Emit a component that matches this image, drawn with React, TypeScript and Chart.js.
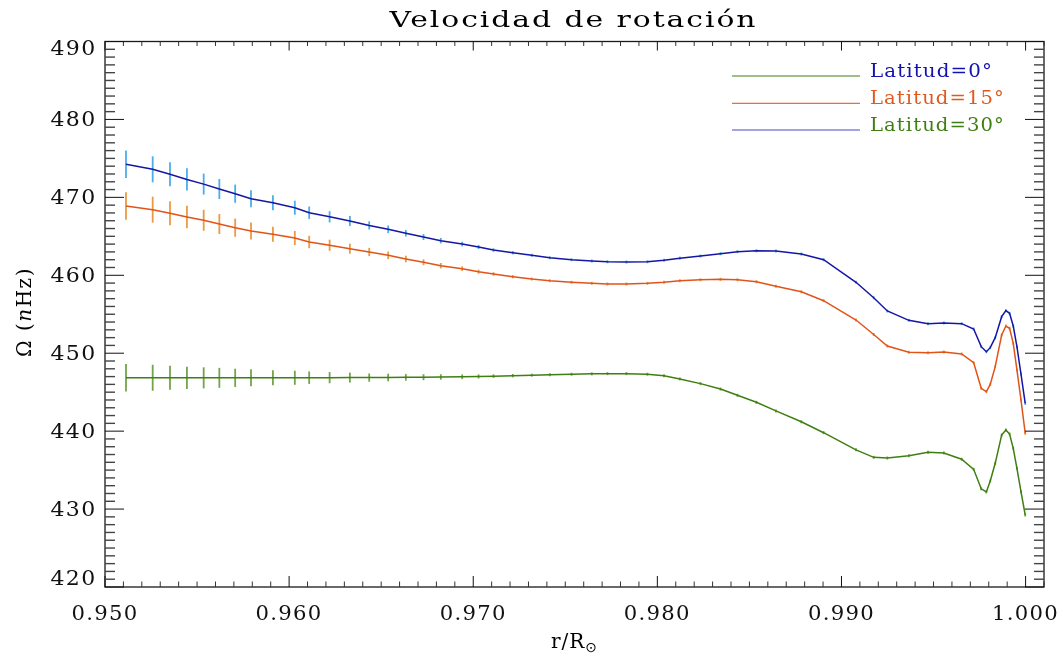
import React, { useEffect, useRef } from 'react';
import { Chart, registerables } from 'chart.js';

Chart.register(...registerables);

// r / R_sun
const radius = [
  0.95114, 0.95259, 0.95353, 0.95445, 0.95536, 0.95621, 0.95707, 0.95793, 0.95912, 0.96031,
  0.96109, 0.9622, 0.9633, 0.96435, 0.96538, 0.96634, 0.9673, 0.96824, 0.9694, 0.97029,
  0.9711, 0.97215, 0.97318, 0.97416, 0.97534, 0.97644, 0.97729, 0.97832, 0.97946, 0.98036,
  0.98122, 0.98234, 0.98343, 0.98435, 0.98538, 0.98644, 0.98782, 0.98903, 0.99079, 0.99175,
  0.99249, 0.99366, 0.9947, 0.99556, 0.99653, 0.99718, 0.99759, 0.99787, 0.99808, 0.99835,
  0.9987, 0.99893, 0.99913, 0.99933, 0.99953, 0.99975, 0.99998,
];

// Omega (nHz), latitude 0
const omegaLat0 = [
  474.24, 473.6, 472.96, 472.3, 471.7, 471.07, 470.47, 469.83, 469.3, 468.67,
  468.03, 467.5, 466.97, 466.4, 465.9, 465.39, 464.91, 464.44, 464.01, 463.63,
  463.24, 462.9, 462.56, 462.25, 462.0, 461.83, 461.74, 461.7, 461.74, 461.92,
  462.2, 462.47, 462.77, 463.03, 463.15, 463.12, 462.73, 462.0, 459.1, 457.12,
  455.42, 454.22, 453.79, 453.88, 453.79, 453.11, 450.84, 450.19, 450.71, 451.99,
  454.69, 455.46, 455.12, 453.49, 450.84, 447.33, 443.57,
];

// Omega (nHz), latitude 15
const omegaLat15 = [
  468.89, 468.42, 467.95, 467.48, 467.06, 466.58, 466.11, 465.68, 465.26, 464.78,
  464.27, 463.85, 463.41, 462.99, 462.56, 462.09, 461.67, 461.23, 460.85, 460.46,
  460.17, 459.82, 459.52, 459.3, 459.1, 458.97, 458.88, 458.88, 458.97, 459.1,
  459.3, 459.43, 459.48, 459.43, 459.18, 458.6, 457.89, 456.74, 454.26, 452.4,
  450.93, 450.12, 450.07, 450.16, 449.9, 448.78, 445.5, 445.06, 446.0, 448.27,
  452.34, 453.49, 453.2, 451.27, 447.85, 444.0, 439.72,
];

// Omega (nHz), latitude 30
const omegaLat30 = [
  446.85, 446.85, 446.84, 446.84, 446.84, 446.84, 446.84, 446.84, 446.85, 446.85,
  446.86, 446.86, 446.87, 446.87, 446.88, 446.9, 446.92, 446.95, 446.98, 447.02,
  447.06, 447.12, 447.18, 447.24, 447.3, 447.35, 447.38, 447.38, 447.3, 447.1,
  446.7, 446.1, 445.4, 444.6, 443.7, 442.6, 441.2, 439.8, 437.6, 436.64,
  436.55, 436.85, 437.28, 437.2, 436.39, 435.1, 432.6, 432.2, 433.6, 435.87,
  439.5, 440.15, 439.63, 437.8, 435.23, 432.23, 429.24,
];

// 1-sigma errors (nHz)
const omegaError = [
  1.77, 1.67, 1.54, 1.43, 1.35, 1.28, 1.17, 1.09, 0.96, 0.9,
  0.8, 0.72, 0.64, 0.53, 0.49, 0.42, 0.38, 0.35, 0.3, 0.26,
  0.23, 0.22, 0.19, 0.19, 0.17, 0.17, 0.15, 0.14, 0.13, 0.13,
  0.12, 0.12, 0.12, 0.12, 0.12, 0.11, 0.11, 0.11, 0.11, 0.11,
  0.11, 0.1, 0.1, 0.1, 0.1, 0.1, 0.1, 0.1, 0.1, 0.1,
  0.1, 0.1, 0.1, 0.1, 0.1, 0.1, 0.1,
];

const xTickValues = [0.95, 0.96, 0.97, 0.98, 0.99, 1.0];
const xTickLabels = ['0.950', '0.960', '0.970', '0.980', '0.990', '1.000'];
const yTickValues = [420, 430, 440, 450, 460, 470, 480, 490];
const yTickLabels = ['420', '430', '440', '450', '460', '470', '480', '490'];

const titleText = 'Velocidad de rotación';
const legendLabels = ['Latitud=0°', 'Latitud=15°', 'Latitud=30°'];
const legendLineColors = ['#3f7f12', '#e8703e', '#4848c4'];
const legendTextColors = ['#1212b0', '#e05a1e', '#3f7f12'];

const seriesColors = ['#1616a6', '#e0541a', '#3f7f12'];
const errorColors = ['#4aaeea', '#eb9a44', '#74a44a'];

const SERIF = '"DejaVu Serif", "Liberation Serif", serif';

// draw text stretched horizontally to a target width (keeps it real text)
function fillStretched(ctx: any, text: string, x: number, y: number, targetW: number, align: 'left' | 'center' | 'right') {
  const w = ctx.measureText(text).width;
  const sx = targetW / w;
  ctx.save();
  const prevAlign = ctx.textAlign;
  ctx.textAlign = 'left';
  let x0 = x;
  if (align === 'center') x0 = x - targetW / 2;
  else if (align === 'right') x0 = x - targetW;
  ctx.translate(x0, y);
  ctx.scale(sx, 1);
  ctx.fillText(text, 0, 0);
  ctx.textAlign = prevAlign;
  ctx.restore();
}

const idlPlugin = {
  id: 'idlFrame',
  beforeDatasetsDraw(chart: any) {
    const ctx = chart.ctx;
    const xs = chart.scales.x;
    const ys = chart.scales.y;
    ctx.save();
    chart.data.datasets.forEach((ds: any, i: number) => {
      ctx.strokeStyle = errorColors[i];
      ctx.lineWidth = 1.8;
      ds.data.forEach((p: any, j: number) => {
        const e = omegaError[j];
        const px = xs.getPixelForValue(p.x);
        let y1 = ys.getPixelForValue(p.y + e);
        let y2 = ys.getPixelForValue(p.y - e);
        if (y2 - y1 < 3) {
          const c = (y1 + y2) / 2;
          y1 = c - 1.5;
          y2 = c + 1.5;
        }
        ctx.beginPath();
        ctx.moveTo(px, y1);
        ctx.lineTo(px, y2);
        ctx.stroke();
      });
    });
    ctx.restore();
  },
  afterDraw(chart: any) {
    const ctx = chart.ctx;
    const { left, right, top, bottom } = chart.chartArea;
    const xs = chart.scales.x;
    const ys = chart.scales.y;
    ctx.save();

    const seg = (x1: number, y1: number, x2: number, y2: number) => {
      ctx.beginPath();
      ctx.moveTo(x1, y1);
      ctx.lineTo(x2, y2);
      ctx.stroke();
    };

    // frame
    ctx.strokeStyle = '#1a1a1a';
    ctx.lineWidth = 1.3;
    ctx.strokeRect(left, top, right - left, bottom - top);

    // x ticks (major 0.01, minor 0.001), inward, bottom and top
    for (let k = 950; k <= 1001; k++) {
      const px = xs.getPixelForValue(k / 1000);
      const major = k % 10 === 0;
      ctx.strokeStyle = major ? '#111' : '#333';
      ctx.lineWidth = 1;
      seg(px, bottom, px, bottom - (major ? 11 : 5.5));
      seg(px, top, px, top + (major ? 9 : 4.5));
    }
    // y ticks (major 10, minor 1), inward, left and right
    for (let k = 420; k <= 490; k++) {
      const py = ys.getPixelForValue(k);
      const major = k % 10 === 0;
      ctx.strokeStyle = major ? '#111' : '#444';
      ctx.lineWidth = major ? 1 : 1.4;
      seg(left, py, left + (major ? 19 : 10), py);
      seg(right, py, right - (major ? 19 : 10), py);
    }

    // tick labels
    ctx.fillStyle = '#111';
    ctx.font = `20px ${SERIF}`;
    (ctx as any).letterSpacing = '1.2px';
    ctx.textBaseline = 'alphabetic';
    xTickValues.forEach((v, i) => {
      fillStretched(ctx, xTickLabels[i], xs.getPixelForValue(v), 620, 67, 'center');
    });
    ctx.textBaseline = 'middle';
    yTickValues.forEach((v, i) => {
      let py = ys.getPixelForValue(v) + 1.5;
      py = Math.max(top + 8.5, Math.min(bottom - 7.5, py));
      fillStretched(ctx, yTickLabels[i], 96.5, py, 46, 'right');
    });

    // title
    ctx.font = `23px ${SERIF}`;
    (ctx as any).letterSpacing = '1.5px';
    ctx.textBaseline = 'alphabetic';
    ctx.fillStyle = '#000';
    fillStretched(ctx, titleText, 573.5, 27, 368, 'center');

    // x axis title r/R_sun
    (ctx as any).letterSpacing = '1px';
    ctx.font = `20px ${SERIF}`;
    ctx.textAlign = 'left';
    const main = 'r/R';
    const wMain = ctx.measureText(main).width;
    ctx.font = `14px "DejaVu Sans", ${SERIF}`;
    const wSub = ctx.measureText('⊙').width;
    const cx = (left + right) / 2;
    const x0 = cx - (wMain + wSub) / 2;
    ctx.font = `20px ${SERIF}`;
    ctx.fillText(main, x0, 648);
    ctx.font = `14px "DejaVu Sans", ${SERIF}`;
    ctx.fillText('⊙', x0 + wMain, 652);

    // y axis title  Ω (nHz)
    ctx.save();
    ctx.translate(31, 312);
    ctx.rotate(-Math.PI / 2);
    (ctx as any).letterSpacing = '1.5px';
    const parts = [
      { t: 'Ω (', f: `20px ${SERIF}` },
      { t: 'n', f: `italic 20px ${SERIF}` },
      { t: 'Hz)', f: `20px ${SERIF}` },
    ];
    let total = 0;
    parts.forEach((p) => {
      ctx.font = p.f;
      total += ctx.measureText(p.t).width;
    });
    let px = -total / 2;
    ctx.textAlign = 'left';
    ctx.textBaseline = 'alphabetic';
    parts.forEach((p) => {
      ctx.font = p.f;
      ctx.fillText(p.t, px, 0);
      px += ctx.measureText(p.t).width;
    });
    ctx.restore();

    // legend
    const legY = [76, 103.3, 130];
    const legW = [123, 135, 135];
    ctx.font = `18px ${SERIF}`;
    (ctx as any).letterSpacing = '1px';
    ctx.textBaseline = 'alphabetic';
    legendLabels.forEach((lab, i) => {
      ctx.strokeStyle = legendLineColors[i];
      ctx.lineWidth = 1.2;
      seg(732, legY[i], 860, legY[i]);
      ctx.fillStyle = legendTextColors[i];
      fillStretched(ctx, lab, 870, legY[i] + 0.7, legW[i], 'left');
    });

    ctx.restore();
  },
};

export default function App() {
  const ref = useRef<HTMLCanvasElement>(null);
  useEffect(() => {
    const canvas = ref.current;
    if (!canvas) return;
    const series = [omegaLat0, omegaLat15, omegaLat30];
    const chart = new Chart(canvas, {
      type: 'line',
      data: {
        datasets: series.map((vals, i) => ({
          label: legendLabels[i],
          data: radius.map((r, j) => ({ x: r, y: vals[j] })),
          borderColor: seriesColors[i],
          backgroundColor: seriesColors[i],
          borderWidth: 1.5,
          pointRadius: 0,
          tension: 0,
          fill: false,
        })),
      },
      options: {
        animation: false,
        responsive: false,
        events: [],
        layout: { padding: { left: 105, right: 19, top: 41.5, bottom: 69 } },
        plugins: {
          legend: { display: false },
          title: { display: false },
          tooltip: { enabled: false },
        },
        scales: {
          x: { type: 'linear', min: 0.95, max: 1.001, display: false },
          y: { type: 'linear', min: 420, max: 490, display: false },
        },
      },
      plugins: [idlPlugin],
    } as any);
    return () => chart.destroy();
  }, []);
  return (
    <div style={{ position: 'absolute', left: 0, top: 0, width: 1063, height: 656, background: '#fff' }}>
      <canvas ref={ref} width={1063} height={656} style={{ display: 'block' }} />
    </div>
  );
}
